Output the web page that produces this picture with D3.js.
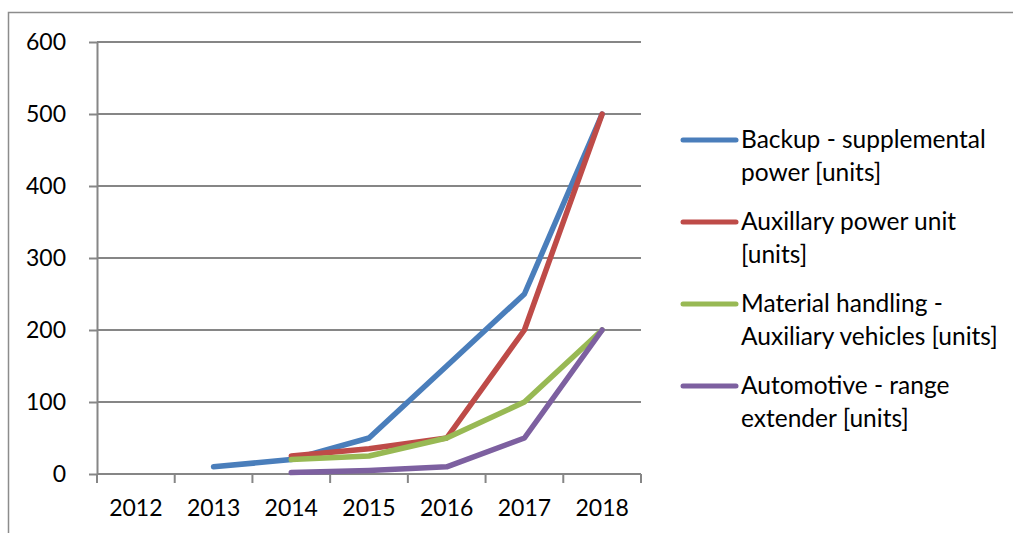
<!DOCTYPE html>
<html>
<head>
<meta charset="utf-8">
<script src="https://d3js.org/d3.v7.min.js"></script>
<style>
  html, body { margin: 0; padding: 0; background: #fff; }
  svg { display: block; }
  text { font-family: Lato, "Open Sans", sans-serif; fill: #000; }
</style>
</head>
<body>
<script>
// Category axis and series values
const years = ["2012", "2013", "2014", "2015", "2016", "2017", "2018"];
const yTicks = [0, 100, 200, 300, 400, 500, 600];

const backupValues     = [null, 10, 20, 50, 150, 250, 500];
const apuValues        = [null, null, 25, 35, 50, 200, 500];
const materialValues   = [null, null, 20, 25, 50, 100, 200];
const automotiveValues = [null, null, 2, 5, 10, 50, 200];

const seriesNames = [
  ["Backup - supplemental", "power [units]"],
  ["Auxillary power unit", "[units]"],
  ["Material handling -", "Auxiliary vehicles [units]"],
  ["Automotive - range", "extender [units]"]
];
const seriesColors = ["#4A7EBB", "#BE4B48", "#98B954", "#7D60A0"];
const seriesValues = [backupValues, apuValues, materialValues, automotiveValues];

const W = 1013, H = 533;
const plot = { left: 97, right: 641, top: 42, bottom: 474 };

const svg = d3.select("body").append("svg")
  .attr("width", W).attr("height", H);

// chart frame (only top and left edges fall inside the view)
svg.append("rect")
  .attr("x", 8.5).attr("y", 12.5)
  .attr("width", W + 20).attr("height", H + 20)
  .attr("fill", "none").attr("stroke", "#8c8c8c").attr("stroke-width", 1.5);

const x = d3.scaleBand().domain(years).range([plot.left, plot.right]);
const y = d3.scaleLinear().domain([0, 600]).range([plot.bottom, plot.top]);

const axisColor = "#868686";

// horizontal gridlines
svg.append("g").selectAll("line").data(yTicks.filter(d => d > 0)).join("line")
  .attr("x1", plot.left).attr("x2", plot.right)
  .attr("y1", d => y(d)).attr("y2", d => y(d))
  .attr("stroke", axisColor).attr("stroke-width", 2);

// y axis
const yAxis = svg.append("g")
  .attr("transform", `translate(${plot.left},0)`)
  .call(d3.axisLeft(y).tickValues(yTicks).tickSize(8).tickPadding(23).tickSizeOuter(0));
yAxis.select(".domain").attr("stroke", axisColor).attr("stroke-width", 2);
yAxis.selectAll(".tick line").attr("stroke", axisColor).attr("stroke-width", 2);
yAxis.selectAll(".tick text")
  .style("font-family", "Lato, 'Open Sans', sans-serif")
  .attr("font-size", 23).attr("fill", "#000");

// x axis: ticks sit on category boundaries
const xAxisG = svg.append("g").attr("transform", `translate(0,${plot.bottom})`);
xAxisG.append("line")
  .attr("x1", plot.left).attr("x2", plot.right)
  .attr("y1", 0).attr("y2", 0)
  .attr("stroke", axisColor).attr("stroke-width", 2);
const boundaries = years.map(d => x(d)).concat([x(years[years.length - 1]) + x.bandwidth()]);
xAxisG.selectAll("line.tk").data(boundaries).join("line")
  .attr("class", "tk")
  .attr("x1", d => d).attr("x2", d => d)
  .attr("y1", 0).attr("y2", 9)
  .attr("stroke", axisColor).attr("stroke-width", 2);
xAxisG.selectAll("text").data(years).join("text")
  .attr("x", d => x(d) + x.bandwidth() / 2)
  .attr("y", 42)
  .attr("text-anchor", "middle")
  .attr("font-size", 23)
  .text(d => d);

// series lines
const line = d3.line()
  .defined(d => d.v !== null)
  .x(d => x(d.year) + x.bandwidth() / 2)
  .y(d => y(d.v));

seriesValues.forEach((vals, i) => {
  const pts = years.map((yr, j) => ({ year: yr, v: vals[j] }));
  svg.append("path")
    .datum(pts)
    .attr("d", line)
    .attr("fill", "none")
    .attr("stroke", seriesColors[i])
    .attr("stroke-width", 5.5)
    .attr("stroke-linejoin", "round")
    .attr("stroke-linecap", "round");
});

// legend
const legend = svg.append("g");
const legendTop = 140, legendStep = 82;
seriesNames.forEach((lines, i) => {
  const g = legend.append("g").attr("transform", `translate(0,${legendTop + i * legendStep})`);
  g.append("line")
    .attr("x1", 683).attr("x2", 736)
    .attr("y1", 0).attr("y2", 0)
    .attr("stroke", seriesColors[i]).attr("stroke-width", 5)
    .attr("stroke-linecap", "round");
  lines.forEach((t, k) => {
    g.append("text")
      .attr("x", 741)
      .attr("y", 8 + k * 33)
      .attr("font-size", 24.5)
      .text(t);
  });
});
</script>
</body>
</html>
